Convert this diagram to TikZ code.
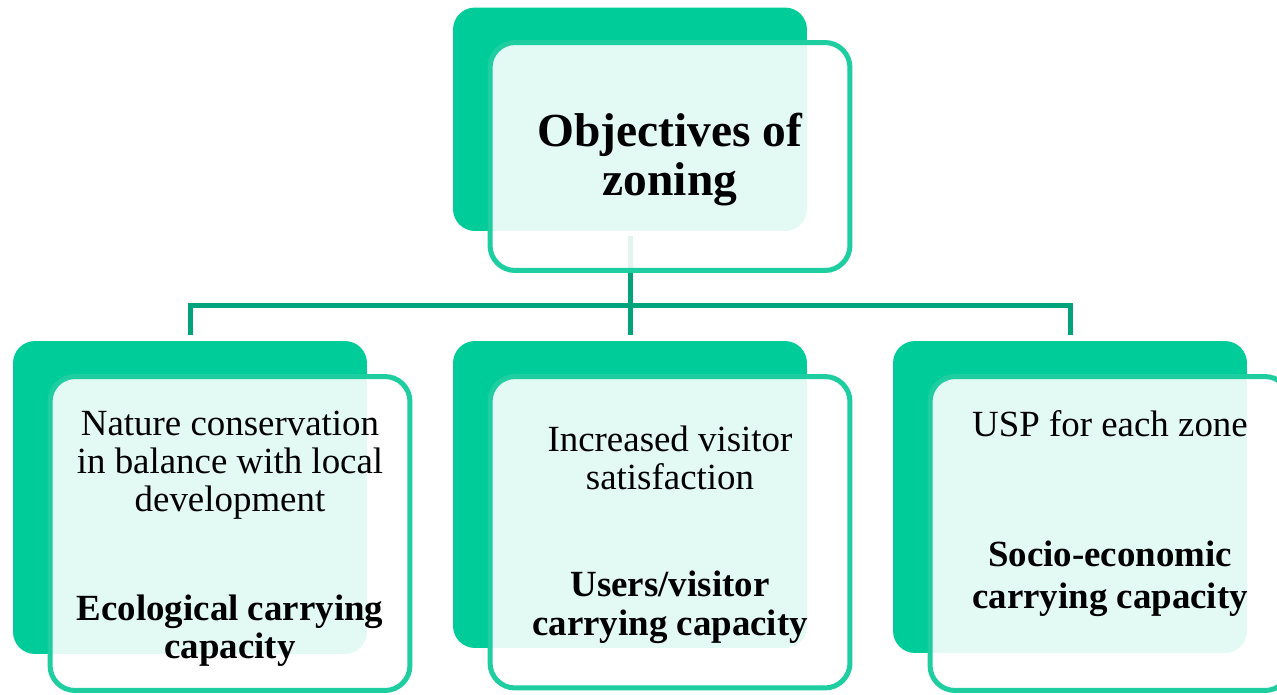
\documentclass[tikz,border=0pt]{standalone}
\usepackage{fontspec}
\setmainfont{Liberation Serif}
\usetikzlibrary{positioning}

\definecolor{zonegreen}{RGB}{0,204,153}
\definecolor{linkgreen}{RGB}{0,163,122}
\definecolor{rimgreen}{RGB}{30,205,160}

\tikzset{
    backbox/.style={fill=zonegreen, rounded corners=0.44cm, minimum width=7.08cm, inner sep=0pt},
    frontbox/.style={draw=rimgreen, line width=0.1cm, fill=white, fill opacity=0.89, rounded corners=0.5cm, minimum width=7.2cm, inner sep=0pt},
    link/.style={draw=linkgreen, line width=0.1cm},
    headtext/.style={font=\fontsize{27}{27.4}\selectfont\bfseries, align=center, anchor=base},
    goaltext/.style={font=\fontsize{21}{21.7}\selectfont, align=center, anchor=base},
    capatext/.style={font=\fontsize{21}{21.7}\selectfont\bfseries, align=center, anchor=base}
}

\begin{document}
\begin{tikzpicture}[x=0.02cm, y=-0.02cm]
                        \useasboundingbox (0, 0) rectangle (1277, 694);
                        \clip (0, 0) rectangle (1277, 694);

                        \node[backbox, minimum height=4.47cm] (topback) at (630, 119.25) {};
                        \node[backbox, minimum height=6.26cm] (leftback) at (190, 497.5) {};
                        \node[backbox, minimum height=6.14cm] (midback) at (630, 494.5) {};
                        \node[backbox, minimum height=6.24cm] (rightback) at (1070, 497) {};

                        \coordinate (hub) at (630, 305);
                        \draw[link, shorten <=0.1cm] (topback.south) -- (hub);
                        \draw[link, shorten >=0.12cm] (hub) -| (leftback.north);
                        \draw[link, shorten >=0.12cm] (hub) -- (midback.north);
                        \draw[link, shorten >=0.12cm] (hub) -| (rightback.north);

                        \node[frontbox, minimum height=4.56cm] (topfront) at (670, 156.5) {};
                        \node[frontbox, minimum height=6.28cm] (leftfront) at (230, 533.5) {};
                        \node[frontbox, minimum height=6.23cm] (midfront) at (670, 532.25) {};
                        \node[frontbox, minimum height=6.28cm] (rightfront) at (1110, 533.5) {};

                        \node[headtext] (headline) at (670, 195) {Objectives of\\zoning};

                        \node[goaltext] (ecogoal) at (230, 511.7) {Nature conservation\\in balance with local\\development};
                        \node[capatext] (ecocapa) at (230, 658.3) {Ecological carrying\\capacity};

                        \node[goaltext] (usergoal) at (670, 489.3) {Increased visitor\\satisfaction};
                        \node[capatext] (usercapa) at (670, 635) {Users/visitor\\carrying capacity};

                        \node[goaltext] (sociogoal) at (1110, 436.7) {USP for each zone};
                        \node[capatext, font=\fontsize{21}{23.6}\selectfont\bfseries] (sociocapa) at (1110, 608.3) {Socio-economic\\carrying capacity};
                    \end{tikzpicture}
\end{document}
